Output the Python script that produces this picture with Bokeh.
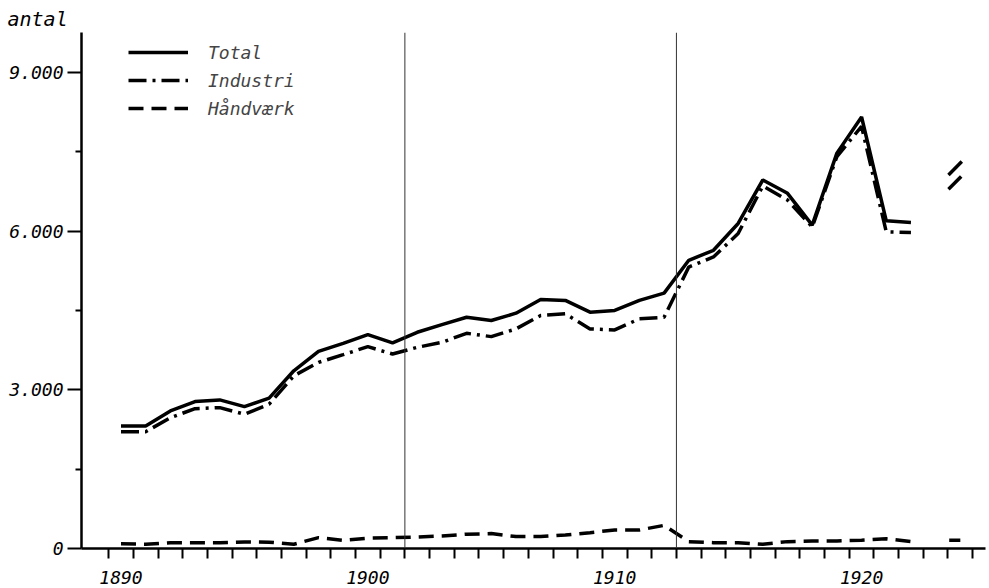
from bokeh.plotting import figure
from bokeh.models import FixedTicker, Span, Range1d, Legend, LegendItem, Title
from bokeh.embed import file_html
from bokeh.resources import INLINE

# ---------------- data ----------------
years = list(range(1890, 1923))
total = [2317, 2317, 2602, 2778, 2810, 2683, 2843, 3361, 3728, 3880, 4045,
         3887, 4089, 4235, 4374, 4311, 4450, 4710, 4691, 4469, 4501, 4691,
         4830, 5450, 5640, 6147, 6970, 6717, 6115, 7477, 8160, 6197, 6166]
industri = [2208, 2208, 2474, 2645, 2664, 2539, 2729, 3266, 3519, 3665, 3817,
            3678, 3804, 3899, 4070, 4007, 4153, 4406, 4438, 4153, 4134, 4343,
            4374, 5323, 5513, 5957, 6856, 6590, 6080, 7412, 7982, 5988, 5976]
haandvaerk = [90, 80, 110, 110, 110, 125, 120, 80, 205, 155, 195,
              205, 218, 237, 270, 282, 225, 225, 256, 300, 350, 350,
              437, 130, 110, 110, 80, 130, 142, 142, 156, 184, 130]

# isolated 1924 fragments
seg_years = [1923.52, 1924.06]
seg_total = [7064, 7317]
seg_industri = [6793, 7045]
seg_hand_years = [1923.55, 1924.0]
seg_hand = [156, 156]

series_names = ["Total", "Industri", "Håndværk"]
decade_years = [1890, 1900, 1910, 1920]
year_bounds = [y - 0.5 for y in range(1890, 1926)]
divider_years = [1901.5, 1912.5]
y_ticks = [0, 3000, 6000, 9000]
y_tick_labels = ["0", "3.000", "6.000", "9.000"]
y_minor = [1500, 4500, 7500]
unit_label = "antal"

FONT = "DejaVu Sans Mono"

p = figure(width=987, height=586, output_backend="svg", toolbar_location=None,
           x_range=Range1d(1888.40, 1925.02), y_range=Range1d(0, 9758),
           min_border_left=81, min_border_right=2, min_border_top=32,
           min_border_bottom=38)
p.outline_line_color = None
p.xgrid.visible = False
p.ygrid.visible = False
p.background_fill_color = "white"
p.border_fill_color = "white"

title = Title(text=unit_label, align="left", offset=-74, standoff=4,
              text_font=FONT, text_font_style="italic",
              text_font_size="20px", text_color="black")
p.add_layout(title, "above")

for d in divider_years:
    p.add_layout(Span(location=d, dimension="height", line_color="#333333",
                      line_width=1))

LW = 3.5
r_tot = p.line(years, total, line_color="black", line_width=LW)
r_ind = p.line(years, industri, line_color="black", line_width=LW,
               line_dash="18 6 3 6")
r_hand = p.line(years, haandvaerk, line_color="black", line_width=LW,
                line_dash="15 8")
p.line(seg_years, seg_total, line_color="black", line_width=LW)
p.line(seg_years, seg_industri, line_color="black", line_width=LW,
       line_dash="18 6 3 6")
p.line(seg_hand_years, seg_hand, line_color="black", line_width=LW,
       line_dash="15 8")

legend = Legend(items=[LegendItem(label=series_names[0], renderers=[r_tot]),
                       LegendItem(label=series_names[1], renderers=[r_ind]),
                       LegendItem(label=series_names[2], renderers=[r_hand])],
                location=(47, 426), glyph_width=60, glyph_height=28,
                label_standoff=20, spacing=0, padding=0, margin=0,
                border_line_color=None, background_fill_alpha=0,
                label_text_font=FONT, label_text_font_style="italic",
                label_text_font_size="18px", label_height=28)
p.add_layout(legend)

# x axis
xa = p.xaxis[0]
xa.ticker = FixedTicker(ticks=decade_years, minor_ticks=year_bounds)
xa.axis_line_width = 2.5
xa.axis_line_color = "black"
xa.major_tick_line_color = None
xa.major_tick_out = 10
xa.major_tick_in = 0
xa.major_label_standoff = 12
xa.minor_tick_out = 10
xa.minor_tick_in = 0
xa.minor_tick_line_width = 2
xa.minor_tick_line_color = "black"
xa.major_label_text_font = FONT
xa.major_label_text_font_style = "italic"
xa.major_label_text_font_size = "18px"
xa.major_label_text_color = "black"

# y axis
ya = p.yaxis[0]
ya.ticker = FixedTicker(ticks=y_ticks, minor_ticks=y_minor)
ya.major_label_overrides = {t: l for t, l in zip(y_ticks, y_tick_labels)}
ya.axis_line_width = 2.5
ya.axis_line_color = "black"
ya.major_tick_out = 14
ya.major_tick_in = 0
ya.major_tick_line_width = 2
ya.minor_tick_out = 6
ya.minor_tick_in = 0
ya.minor_tick_line_width = 2
ya.minor_tick_line_color = "black"
ya.major_label_standoff = 4
ya.major_label_text_font = FONT
ya.major_label_text_font_style = "italic"
ya.major_label_text_font_size = "18px"
ya.major_label_text_color = "black"

open("out.html", "w").write(file_html(p, INLINE))
